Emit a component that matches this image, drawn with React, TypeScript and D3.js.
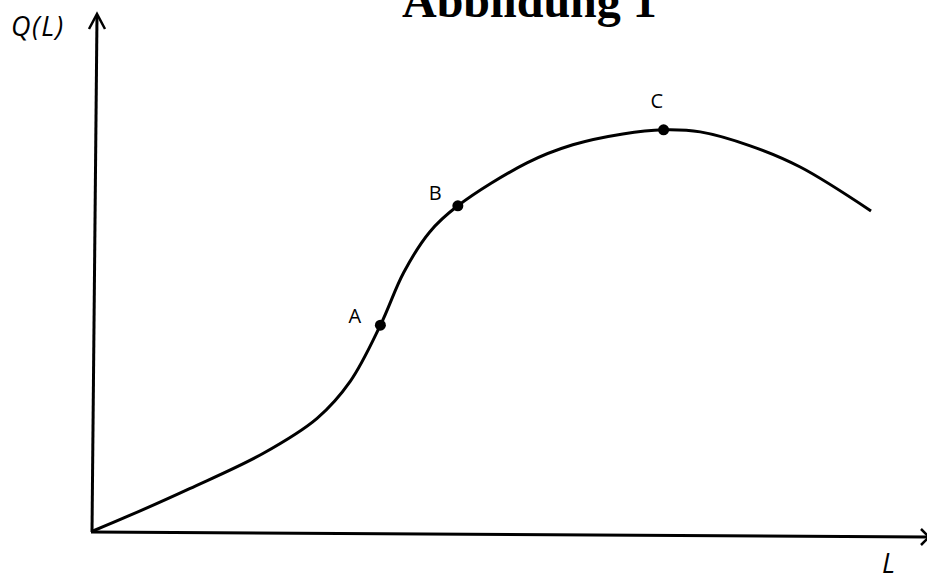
import React from "react";
import * as d3 from "d3";

// Curve data (L, Q(L)) in chart units
const curveL = [0, 4.4, 11.6, 20.4, 26.9, 30.9, 34.5, 37.3, 40.4, 43.8, 52.1, 57.6, 63.6, 68.5, 72.9, 78.9, 84.9, 93.4];
const curveQ = [0, 3.0, 8.2, 15.0, 21.8, 29.0, 39.8, 50.0, 57.8, 62.9, 71.2, 74.7, 76.8, 77.6, 77.2, 74.5, 70.4, 61.9];

// Marked points
const pointNames = ["A", "B", "C"];
const pointL = [34.5, 43.8, 68.5];
const pointQ = [39.8, 62.9, 77.6];

const title = "Abbildung 1";
const yLabel = "Q(L)";
const xLabel = "L";

const W = 927;
const H = 576;

export default function App() {
  const x = d3.scaleLinear().domain([0, 100]).range([93, 926]);
  const y = d3.scaleLinear().domain([0, 100]).range([531, 14]);

  const data = curveL.map((l, i) => [l, curveQ[i]] as [number, number]);
  const line = d3
    .line<[number, number]>()
    .x((d) => x(d[0]))
    .y((d) => y(d[1]))
    .curve(d3.curveCatmullRom.alpha(0.5));

  const labelDx = [-32, -29, -13];
  const labelDy = [-2, -6, -22];

  return (
    <svg
      width={W}
      height={H}
      style={{ position: "absolute", left: 0, top: 0, background: "#fff" }}
    >
      <rect x={0} y={0} width={W} height={H} fill="#fff" />
      <text
        x={402}
        y={17}
        fontFamily="'Liberation Serif', 'Times New Roman', serif"
        fontWeight="bold"
        fontSize={48}
        fill="#000"
      >
        {title}
      </text>
      {/* y axis */}
      <line x1={92} y1={532} x2={97} y2={15} stroke="#000" strokeWidth={3} />
      <path d="M89,29 L97,14 L105,29" fill="none" stroke="#000" strokeWidth={2.5} />
      {/* x axis */}
      <line x1={91} y1={532} x2={928} y2={537} stroke="#000" strokeWidth={3} />
      <path d="M921,529 L929,537 L921,545" fill="none" stroke="#000" strokeWidth={2.5} />
      <text
        x={11}
        y={36}
        fontFamily="'Open Sans', sans-serif"
        fontStyle="italic"
        fontSize={27}
        letterSpacing={1.5}
        fill="#000"
      >
        {yLabel}
      </text>
      <text
        x={882}
        y={573}
        fontFamily="'Open Sans', sans-serif"
        fontStyle="italic"
        fontSize={27}
        fill="#000"
      >
        {xLabel}
      </text>
      <path d={line(data) || ""} fill="none" stroke="#000" strokeWidth={3} />
      {pointNames.map((n, i) => (
        <g key={n}>
          <circle cx={x(pointL[i])} cy={y(pointQ[i])} r={5.5} fill="#000" />
          <text
            x={x(pointL[i]) + labelDx[i]}
            y={y(pointQ[i]) + labelDy[i]}
            fontFamily="'Open Sans', sans-serif"
            fontSize={20}
            fill="#000"
          >
            {n}
          </text>
        </g>
      ))}
    </svg>
  );
}
